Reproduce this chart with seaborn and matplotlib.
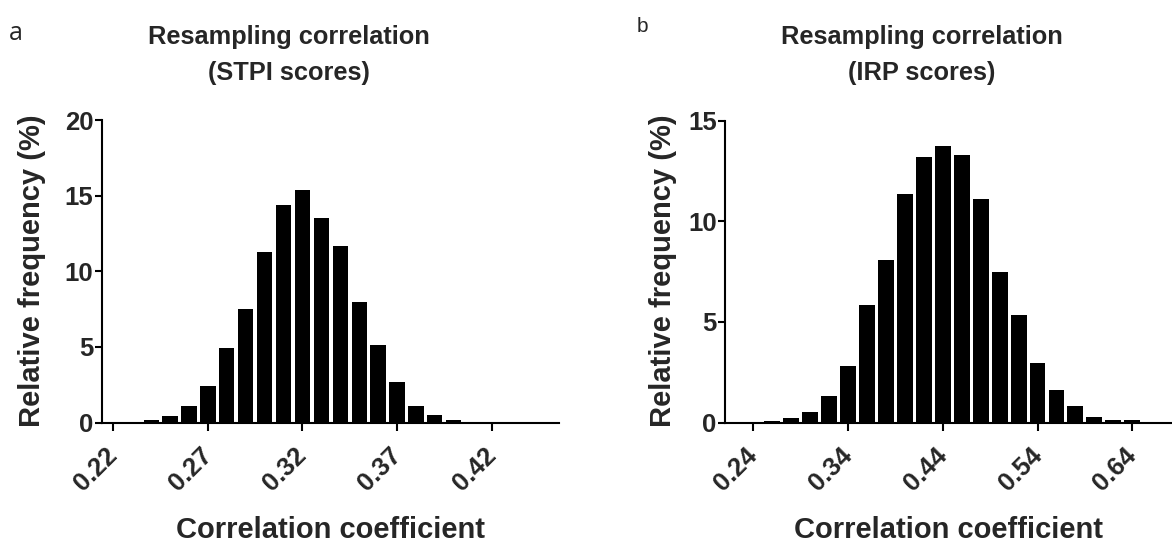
import matplotlib
matplotlib.use("Agg")
import matplotlib.pyplot as plt
from matplotlib.transforms import ScaledTranslation
import seaborn as sns
import numpy as np
import pandas as pd

# ---- data ----
stpi_bins = [0.24, 0.25, 0.26, 0.27, 0.28, 0.29, 0.30, 0.31, 0.32, 0.33,
             0.34, 0.35, 0.36, 0.37, 0.38, 0.39, 0.40]
stpi_freq = [0.15, 0.4, 1.1, 2.4, 4.95, 7.5, 11.3, 14.4, 15.35, 13.55,
             11.7, 7.95, 5.1, 2.65, 1.1, 0.5, 0.15]

irp_bins = [0.26, 0.28, 0.30, 0.32, 0.34, 0.36, 0.38, 0.40, 0.42, 0.44,
            0.46, 0.48, 0.50, 0.52, 0.54, 0.56, 0.58, 0.60, 0.62, 0.64]
irp_freq = [0.05, 0.2, 0.5, 1.3, 2.8, 5.85, 8.1, 11.35, 13.2, 13.75,
            13.3, 11.1, 7.5, 5.35, 2.95, 1.6, 0.8, 0.28, 0.1, 0.1]

stpi_xticks = [0.22, 0.27, 0.32, 0.37, 0.42]
stpi_yticks = [0, 5, 10, 15, 20]
irp_xticks = [0.24, 0.34, 0.44, 0.54, 0.64]
irp_yticks = [0, 5, 10, 15]

titles = ["Resampling correlation\n(STPI scores)", "Resampling correlation\n(IRP scores)"]
panel_labels = ["a", "b"]
xlabel = "Correlation coefficient"
ylabel = "Relative frequency (%)"

sns.set_theme(style="ticks")
plt.rcParams['font.family'] = ['Liberation Sans', 'DejaVu Sans']

W, H = 1172, 544
fig = plt.figure(figsize=(W / 100, H / 100), dpi=100)

def frac_axes(x0, x1, ytop, ybot):
    return fig.add_axes([x0 / W, (H - ybot) / H, (x1 - x0) / W, (ybot - ytop) / H])

axL = frac_axes(101.5, 559, 120, 422.5)
axR = frac_axes(725, 1172, 120.7, 422.5)

panels = [
    (axL, stpi_bins, stpi_freq, stpi_xticks, stpi_yticks, (0.2137, 0.4557), (0, 20), 0.81, -0.121),
    (axR, irp_bins, irp_freq, irp_xticks, irp_yticks, (0.2100, 0.682), (0, 15), 0.84, -0.107),
]

shift = ScaledTranslation(-8 / 100, -8 / 100, fig.dpi_scale_trans)

for ax, bins, freq, xt, yt, xl, yl, w, ylx in panels:
    df = pd.DataFrame({"x": bins, "y": freq})
    sns.barplot(data=df, x="x", y="y", native_scale=True, color="black",
                width=w, linewidth=0, saturation=1, ax=ax)
    ax.set_xlim(*xl)
    ax.set_ylim(*yl)
    for s in ["top", "right"]:
        ax.spines[s].set_visible(False)
    for s in ["left", "bottom"]:
        ax.spines[s].set_linewidth(1.5)
        ax.spines[s].set_color("black")
    ax.tick_params(axis="both", width=1.5, length=5, color="black", pad=1)
    ax.tick_params(axis="x", length=6, pad=3)
    ax.set_xticks(xt)
    ax.set_xticklabels([f"{v:.2f}" for v in xt], rotation=45, ha="right",
                       rotation_mode="anchor", fontsize=18.5, fontweight="bold")
    for lab in ax.get_xticklabels():
        lab.set_transform(lab.get_transform() + shift)
    ax.set_yticks(yt)
    ax.set_yticklabels([str(v) for v in yt], fontsize=18.5, fontweight="bold")
    ax.set_xlabel(xlabel, fontsize=21, fontweight="bold", labelpad=15)
    ax.set_ylabel(ylabel, fontsize=21, fontweight="bold")
    ax.yaxis.set_label_coords(ylx, 0.502)

fig.text(289 / W, 1 - 25 / H, titles[0], ha="center", va="top",
         fontsize=18.3, fontweight="bold", linespacing=1.65)
fig.text(922 / W, 1 - 25 / H, titles[1], ha="center", va="top",
         fontsize=18.3, fontweight="bold", linespacing=1.65)
fig.text(9 / W, 1 - 40 / H, panel_labels[0], ha="left", va="baseline", fontsize=18,
         family=['Open Sans', 'DejaVu Sans'])
fig.text(637 / W, 1 - 32 / H, panel_labels[1], ha="left", va="baseline", fontsize=15,
         family=['Liberation Sans', 'DejaVu Sans'])

fig.savefig("out.png", dpi=100)
